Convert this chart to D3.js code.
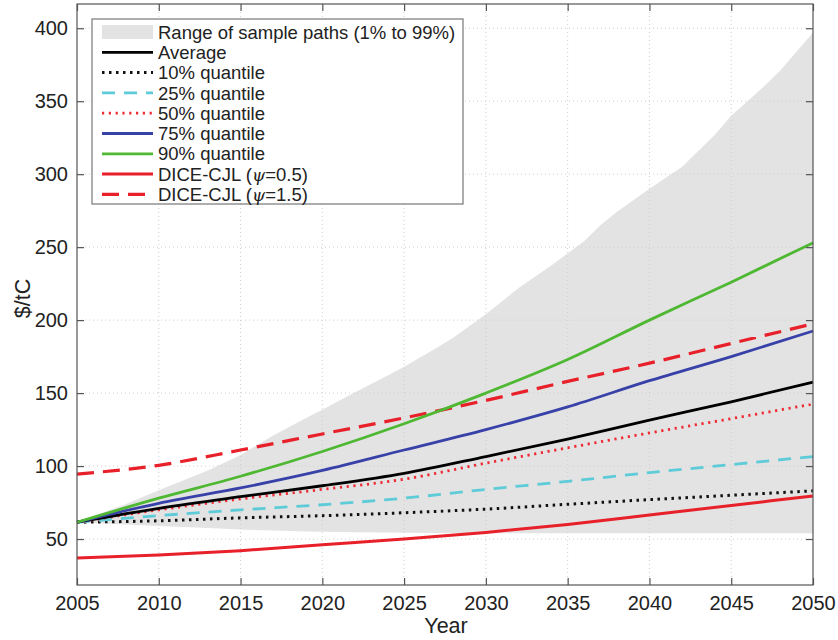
<!DOCTYPE html>
<html>
<head>
<meta charset="utf-8">
<script src="https://cdn.jsdelivr.net/npm/d3@7"></script>
<style>
  html, body { margin: 0; padding: 0; background: #fff; }
  svg { display: block; }
  text { font-family: "Liberation Sans", Arial, Helvetica, sans-serif; fill: #222; }
</style>
</head>
<body>
<svg id="chart" width="838" height="640"></svg>
<script>
// Years at which the summary paths are reported
const years = [2005, 2010, 2015, 2020, 2025, 2030, 2035, 2040, 2045, 2050];

// Summary statistics of the sampled carbon-price paths ($/tC)
const average = [61.5, 71, 79, 86.5, 95, 106.5, 118.5, 131.5, 144, 157.5];
const q10 = [61.5, 62.5, 64.5, 66, 68, 70.5, 73.8, 77, 80, 83];
const q25 = [61.5, 66, 70, 73.5, 78, 84, 89.5, 95.5, 101, 106.5];
const q50 = [61.5, 70, 77.5, 84, 91, 102, 112.5, 122.7, 132.5, 142.5];
const q75 = [61.5, 74.5, 85, 97, 111, 125, 140.5, 158.5, 175, 192.5];
const q90 = [61.5, 78, 93, 110, 129, 150, 173, 200, 226, 253];

// Deterministic DICE-CJL paths
const dicePsi05 = [37, 39, 42, 46, 50, 54.5, 60, 66.5, 73, 79.5];
const dicePsi15 = [94.5, 100.5, 111, 122, 133, 145, 158, 170.5, 184, 197.5];

// Envelope of the sample paths (1% to 99%)
const bandYears = [2005, 2008, 2010, 2013, 2015, 2017, 2019, 2020, 2022, 2024, 2025, 2027, 2028, 2030, 2032, 2034, 2036, 2037, 2038, 2040, 2042, 2044, 2045, 2047, 2048, 2050];
const bandUpper = [61.5, 74, 83.5, 97, 107.5, 121, 133, 138.5, 150.5, 162, 168, 181, 188, 204, 222, 237.5, 254, 265, 274, 290, 305, 327, 340, 360, 371, 397];
const bandLower = [61.5, 60, 58.9, 57.5, 56.6, 55.8, 55.2, 55, 54.6, 54.4, 54.3, 54.2, 54.1, 54, 54, 54, 54, 54, 54, 54, 54, 54, 54, 54, 54, 54];

// Axis ticks
const xTicks = [2005, 2010, 2015, 2020, 2025, 2030, 2035, 2040, 2045, 2050];
const yTicks = [50, 100, 150, 200, 250, 300, 350, 400];

const svg = d3.select("#chart");
const plotL = 77, plotR = 813, plotT = 4, plotB = 585;

const x = d3.scaleLinear().domain([2005, 2050]).range([plotL, plotR]);
const y = d3.scaleLinear().domain([18.5, 416.6]).range([plotB, plotT]);

// Grey envelope
const band = bandYears.map((yr, i) => ({ yr, lo: bandLower[i], hi: bandUpper[i] }));
svg.append("path")
  .datum(band)
  .attr("fill", "#e3e3e3")
  .attr("d", d3.area().x(d => x(d.yr)).y0(d => y(d.lo)).y1(d => y(d.hi)));

// Dotted grid
const grid = svg.append("g").attr("stroke", "#cfcfcf").attr("stroke-width", 1).attr("stroke-dasharray", "1,3");
grid.selectAll("line.gx").data(xTicks.slice(1, -1)).join("line").attr("class", "gx")
  .attr("x1", d => x(d)).attr("x2", d => x(d)).attr("y1", plotT).attr("y2", plotB);
grid.selectAll("line.gy").data(yTicks).join("line").attr("class", "gy")
  .attr("y1", d => y(d)).attr("y2", d => y(d)).attr("x1", plotL).attr("x2", plotR);

// Series
const series = [
  { name: "Average", values: average, color: "#000000", dash: null, width: 2.8 },
  { name: "10% quantile", values: q10, color: "#111111", dash: "2.5,4.5", width: 3 },
  { name: "25% quantile", values: q25, color: "#5ecbd8", dash: "13,9", width: 2.8 },
  { name: "50% quantile", values: q50, color: "#ee2a33", dash: "2.2,4.6", width: 2.8 },
  { name: "75% quantile", values: q75, color: "#3841a8", dash: null, width: 2.8 },
  { name: "90% quantile", values: q90, color: "#4fb832", dash: null, width: 2.8 },
  { name: "DICE-CJL (", psi: "0.5", values: dicePsi05, color: "#e8202a", dash: null, width: 3 },
  { name: "DICE-CJL (", psi: "1.5", values: dicePsi15, color: "#e8202a", dash: "17,9", width: 3.2 }
];

const line = d3.line().x(d => x(d.yr)).y(d => y(d.v)).curve(d3.curveMonotoneX);
const drawOrder = [6, 7, 1, 2, 3, 0, 4, 5];
drawOrder.forEach(i => {
  const s = series[i];
  svg.append("path")
    .datum(years.map((yr, j) => ({ yr, v: s.values[j] })))
    .attr("fill", "none")
    .attr("stroke", s.color)
    .attr("stroke-width", s.width)
    .attr("stroke-dasharray", s.dash)
    .attr("d", line);
});

// Axes (ticks point inward on all four sides)
const axisColor = "#555";
svg.append("rect")
  .attr("x", plotL).attr("y", plotT).attr("width", plotR - plotL).attr("height", plotB - plotT)
  .attr("fill", "none").attr("stroke", axisColor).attr("stroke-width", 1.2);

const xAxis = svg.append("g").attr("transform", `translate(0,${plotB})`)
  .call(d3.axisBottom(x).tickValues(xTicks).tickFormat(d3.format("d")).tickSize(-7).tickPadding(11));
const xAxisTop = svg.append("g").attr("transform", `translate(0,${plotT})`)
  .call(d3.axisTop(x).tickValues(xTicks).tickFormat("").tickSize(-7));
const yAxis = svg.append("g").attr("transform", `translate(${plotL},0)`)
  .call(d3.axisLeft(y).tickValues(yTicks).tickSize(-7).tickPadding(9));
const yAxisRight = svg.append("g").attr("transform", `translate(${plotR},0)`)
  .call(d3.axisRight(y).tickValues(yTicks).tickFormat("").tickSize(-7));

[xAxis, xAxisTop, yAxis, yAxisRight].forEach(g => {
  g.select(".domain").remove();
  g.selectAll(".tick line").attr("stroke", axisColor).attr("stroke-width", 1.2);
  g.selectAll(".tick text").attr("font-size", 20).attr("fill", "#2a2a2a")
    .attr("font-family", "'Liberation Sans', Arial, sans-serif");
});

// Axis titles
svg.append("text").attr("x", (plotL + plotR) / 2 + 1).attr("y", 633)
  .attr("text-anchor", "middle").attr("font-size", 21.5).text("Year");
svg.append("text").attr("transform", `translate(30,${(plotT + plotB) / 2 + 4}) rotate(-90)`)
  .attr("text-anchor", "middle").attr("font-size", 21.5).text("$/tC");

// Legend
const lg = svg.append("g");
const lgX = 92, lgY = 19, lgW = 371, lgH = 185, rowH = 20.3;
lg.append("rect").attr("x", lgX).attr("y", lgY).attr("width", lgW).attr("height", lgH)
  .attr("fill", "#fff").attr("stroke", "#777").attr("stroke-width", 1.2);

const row0 = lgY + 13;
lg.append("rect").attr("x", 102).attr("y", row0 - 7).attr("width", 51).attr("height", 14).attr("fill", "#e3e3e3");
lg.append("text").attr("x", 158).attr("y", row0).attr("dy", "0.36em").attr("font-size", 18.5)
  .text("Range of sample paths (1% to 99%)");

series.forEach((s, i) => {
  const cy = row0 + rowH * (i + 1);
  lg.append("line").attr("x1", 102).attr("x2", 153).attr("y1", cy).attr("y2", cy)
    .attr("stroke", s.color).attr("stroke-width", s.width)
    .attr("stroke-dasharray", s.dash);
  const t = lg.append("text").attr("x", 158).attr("y", cy).attr("dy", "0.36em").attr("font-size", 18.5);
  if (s.psi) {
    t.append("tspan").text(s.name);
    t.append("tspan").attr("font-family", "'DejaVu Serif', 'Liberation Serif', serif")
      .attr("font-style", "italic").attr("font-size", 17).text("ψ");
    t.append("tspan").text("=" + s.psi + ")");
  } else {
    t.text(s.name);
  }
});
</script>
</body>
</html>
